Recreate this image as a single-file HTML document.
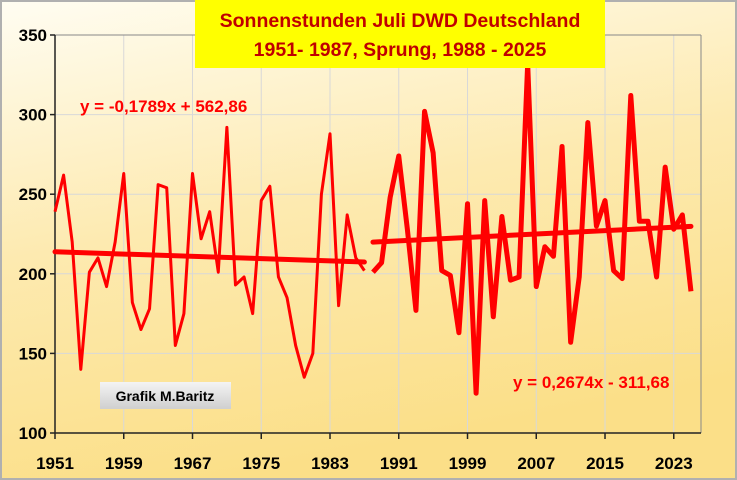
<!DOCTYPE html>
<html><head><meta charset="utf-8"><style>
body{margin:0;width:737px;height:480px;overflow:hidden;font-family:"Liberation Sans",sans-serif}
svg{display:block}
</style></head><body>
<svg width="737" height="480" id="svg">
<defs>
<linearGradient id="bg" x1="0" y1="0" x2="0.3" y2="1"><stop offset="0" stop-color="#fffdf2"/><stop offset="0.5" stop-color="#fdeab0"/><stop offset="1" stop-color="#fbdf88"/></linearGradient>
<linearGradient id="gb" x1="0" y1="0" x2="0" y2="1"><stop offset="0" stop-color="#f4f4f4"/><stop offset="1" stop-color="#cfcfcf"/></linearGradient>
</defs>
<rect x="1" y="1" width="735" height="478" fill="url(#bg)" stroke="#b0b0b0" stroke-width="2"/>
<g id="grid"></g>
<g id="axes"></g>
<g id="series"></g>
<rect x="195" y="0" width="410" height="68" fill="#ffff00"/>
<text x="400" y="27" text-anchor="middle" font-size="19.5" font-weight="bold" fill="#c00000">Sonnenstunden Juli DWD Deutschland</text>
<text x="400" y="56" text-anchor="middle" font-size="19.5" font-weight="bold" fill="#c00000">1951- 1987, Sprung, 1988 - 2025</text>
<text x="80" y="112" font-size="17" font-weight="bold" fill="#ff0000">y = -0,1789x + 562,86</text>
<text x="513" y="388" font-size="17" font-weight="bold" fill="#ff0000">y = 0,2674x - 311,68</text>
<rect x="100" y="382" width="131" height="27" fill="url(#gb)"/>
<text x="165" y="401" text-anchor="middle" font-size="14" font-weight="bold" fill="#000">Grafik M.Baritz</text>
</svg>
<script>
const years1=[1951,1952,1953,1954,1955,1956,1957,1958,1959,1960,1961,1962,1963,1964,1965,1966,1967,1968,1969,1970,1971,1972,1973,1974,1975,1976,1977,1978,1979,1980,1981,1982,1983,1984,1985,1986,1987];
const values1=[239,262,220,140,201,210,192,220,263,182,165,178,256,254,155,175,263,222,239,201,292,193,198,175,246,255,198,185,155,135,150,250,288,180,237,210,202];
const years2=[1988,1989,1990,1991,1992,1993,1994,1995,1996,1997,1998,1999,2000,2001,2002,2003,2004,2005,2006,2007,2008,2009,2010,2011,2012,2013,2014,2015,2016,2017,2018,2019,2020,2021,2022,2023,2024,2025];
const values2=[201,207,248,274,228,177,302,276,202,199,163,244,125,246,173,236,196,198,332,192,217,211,280,157,198,295,230,246,202,197,312,233,233,198,267,228,237,189];
const yTicks=[100,150,200,250,300,350];
const xTicks=[1951,1959,1967,1975,1983,1991,1999,2007,2015,2023];
const trend1=[-0.1789,562.86];
const trend2=[0.2674,-311.68];
const NS="http://www.w3.org/2000/svg";
const X0=55,PX=8.594,Y0=433,PY=1.592;
const xs=yr=>X0+(yr-1951)*PX;
const ys=v=>Y0-(v-100)*PY;
function mk(tag,attrs,parent){const e=document.createElementNS(NS,tag);for(const k in attrs)e.setAttribute(k,attrs[k]);document.getElementById(parent).appendChild(e);return e;}
yTicks.forEach(t=>{
 if(t>100){const g=mk('line',{x1:X0,x2:701,y1:ys(t),y2:ys(t),stroke:'#d8d8d8','stroke-width':1},'grid');
 
 }
 const l=mk('text',{x:X0-8,y:ys(t)+6,'text-anchor':'end','font-size':17,'font-weight':'bold',fill:'#000'},'axes');
 l.textContent=t;
 
 
 const tk=mk('line',{x1:X0-5,x2:X0,y1:ys(t),y2:ys(t),stroke:'#222','stroke-width':1.5},'axes');
 
 
});
xTicks.forEach(t=>{
 if(t>1951){const g=mk('line',{x1:xs(t),x2:xs(t),y1:35,y2:Y0,stroke:'#d8d8d8','stroke-width':1},'grid');
 
 }
 const l=mk('text',{x:xs(t),y:Y0+36,'text-anchor':'middle','font-size':17,'font-weight':'bold',fill:'#000'},'axes');
 l.textContent=t;
 
 
 const tk=mk('line',{x1:xs(t),x2:xs(t),y1:Y0,y2:Y0+6,stroke:'#222','stroke-width':1.5},'axes');
 
 
});
const fr=mk('line',{x1:701,x2:701,y1:35,y2:Y0,stroke:'#888','stroke-width':1},'axes');


const ftop=mk('line',{x1:X0,x2:701,y1:35,y2:35,stroke:'#888','stroke-width':1},'axes');


const ya=mk('line',{x1:X0,x2:X0,y1:35,y2:Y0,stroke:'#222','stroke-width':1.5},'axes');


const xa=mk('line',{x1:X0,x2:701,y1:Y0,y2:Y0,stroke:'#222','stroke-width':1.5},'axes');


const p1=mk('polyline',{points:years1.map((y,i)=>xs(y)+','+ys(values1[i])).join(' '),fill:'none',stroke:'#ff0000','stroke-width':3,'stroke-linejoin':'round'},'series');


const p2=mk('polyline',{points:years2.map((y,i)=>xs(y)+','+ys(values2[i])).join(' '),fill:'none',stroke:'#ff0000','stroke-width':5,'stroke-linejoin':'round'},'series');


function tl(tr,a,b,name){const e=mk('line',{x1:xs(a),x2:xs(b),y1:ys(tr[0]*a+tr[1]),y2:ys(tr[0]*b+tr[1]),stroke:'#ff0000','stroke-width':5,'stroke-linecap':'round'},'series');
 
 }
tl(trend1,years1[0],years1[years1.length-1],'trendline-1');
tl(trend2,years2[0],years2[years2.length-1],'trendline-2');
</script>
</body></html>
